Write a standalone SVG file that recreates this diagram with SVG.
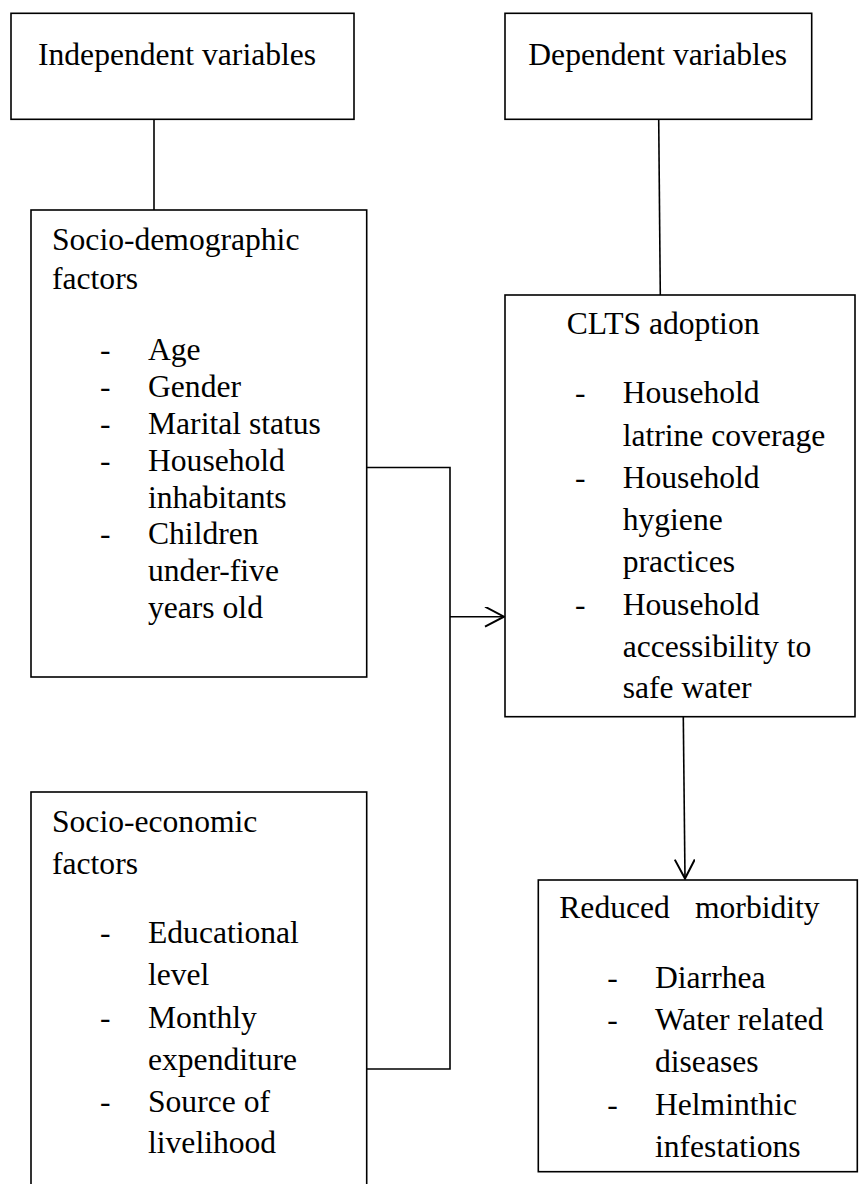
<svg xmlns="http://www.w3.org/2000/svg" width="859" height="1184" viewBox="0 0 859 1184">
<style>
.box{fill:#fff;stroke:#000;stroke-width:1.6}
.ln{fill:none;stroke:#000;stroke-width:1.6}
text{font-family:"Liberation Serif","Times New Roman",serif;font-size:31.6px;fill:#000}
</style>
<defs>
<marker id="arr" markerWidth="24" markerHeight="24" refX="20" refY="10" orient="auto" markerUnits="userSpaceOnUse">
<path d="M1,0 L20,10 L1,20" fill="none" stroke="#000" stroke-width="2"/>
</marker>
</defs>
<rect width="859" height="1184" fill="#fff"/>
<g id="connectors">
<line class="ln" x1="154" y1="119" x2="154" y2="210"/>
<line class="ln" x1="658.7" y1="119" x2="660.3" y2="295"/>
<polyline class="ln" points="367,467.5 450,467.5 450,1069 367,1069"/>
<line class="ln" x1="450" y1="616.7" x2="504" y2="616.7" marker-end="url(#arr)"/>
<line class="ln" x1="683.3" y1="717" x2="685" y2="878.5" marker-end="url(#arr)"/>
</g>
<g id="independent">
<rect class="box" x="11" y="13.3" width="343" height="106"/>
<text x="38" y="65">Independent variables</text>
</g>
<g id="dependent">
<rect class="box" x="505" y="13.3" width="306.7" height="106"/>
<text x="528.3" y="65">Dependent variables</text>
</g>
<g id="sociodemographic">
<rect class="box" x="31" y="210" width="335.7" height="467"/>
<text x="52" y="250">Socio-demographic</text>
<text x="52" y="289">factors</text>
<text x="100" y="360">-</text><text x="148" y="360">Age</text>
<text x="100" y="396.8">-</text><text x="148" y="396.8">Gender</text>
<text x="100" y="434">-</text><text x="148" y="434">Marital status</text>
<text x="100" y="470.7">-</text><text x="148" y="470.7">Household</text>
<text x="148" y="507.7">inhabitants</text>
<text x="100" y="544">-</text><text x="148" y="544">Children</text>
<text x="148" y="581">under-five</text>
<text x="148" y="618">years old</text>
</g>
<g id="socioeconomic">
<rect class="box" x="31" y="792" width="335.7" height="410"/>
<text x="52" y="831.7">Socio-economic</text>
<text x="52" y="874">factors</text>
<text x="100" y="943.3">-</text><text x="148" y="943.3">Educational</text>
<text x="148" y="985">level</text>
<text x="100" y="1028">-</text><text x="148" y="1028">Monthly</text>
<text x="148" y="1070">expenditure</text>
<text x="100" y="1112">-</text><text x="148" y="1112">Source of</text>
<text x="148" y="1153">livelihood</text>
</g>
<g id="clts">
<rect class="box" x="505" y="295" width="350" height="421.7"/>
<text x="566.7" y="334">CLTS adoption</text>
<text x="575" y="403.3">-</text><text x="622.7" y="403.3">Household</text>
<text x="622.7" y="445.7">latrine coverage</text>
<text x="575" y="488.3">-</text><text x="622.7" y="488.3">Household</text>
<text x="622.7" y="530">hygiene</text>
<text x="622.7" y="571.7">practices</text>
<text x="575" y="615">-</text><text x="622.7" y="615">Household</text>
<text x="622.7" y="656.7">accessibility to</text>
<text x="622.7" y="698.3">safe water</text>
</g>
<g id="morbidity">
<rect class="box" x="538.3" y="880" width="319" height="291.7"/>
<text y="918.3"><tspan x="559.3">Reduced</tspan><tspan x="695">morbidity</tspan></text>
<text x="607.3" y="988.3">-</text><text x="655" y="988.3">Diarrhea</text>
<text x="607.3" y="1030">-</text><text x="655" y="1030">Water related</text>
<text x="655" y="1071.7">diseases</text>
<text x="607.3" y="1115">-</text><text x="655" y="1115">Helminthic</text>
<text x="655" y="1156.7">infestations</text>
</g>
</svg>
